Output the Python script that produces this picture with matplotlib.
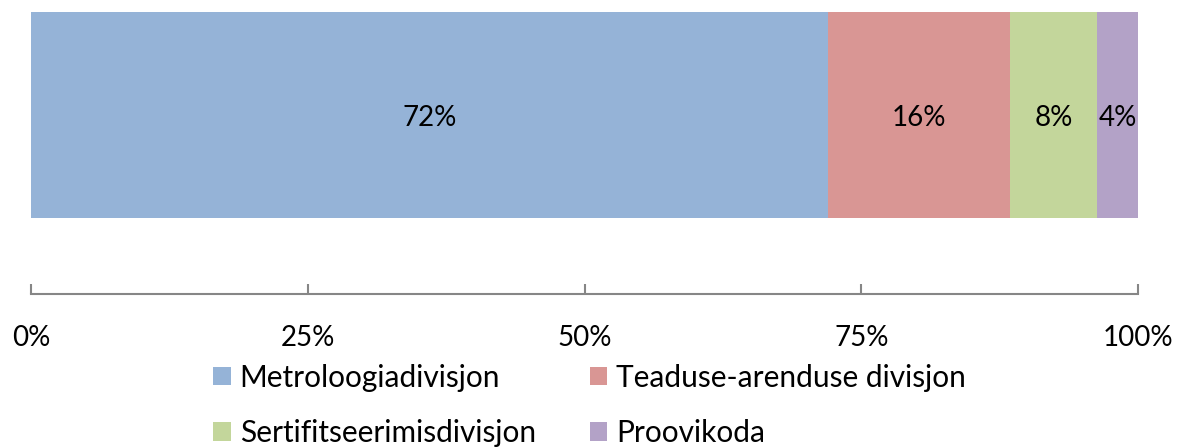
import matplotlib.pyplot as plt
from matplotlib.patches import Patch
from matplotlib.ticker import FuncFormatter

plt.rcParams['font.family'] = ['Lato', 'DejaVu Sans']

divisions = ['Metroloogiadivisjon', 'Teaduse-arenduse divisjon',
             'Sertifitseerimisdivisjon', 'Proovikoda']
shares = [72.0, 16.4, 7.9, 3.7]
labels = ['72%', '16%', '8%', '4%']
colors = ['#95B3D7', '#D99694', '#C3D69B', '#B3A2C7']

fig = plt.figure(figsize=(11.79, 4.47), dpi=100)
ax = fig.add_axes([31 / 1179, 153 / 447, 1107 / 1179, 282 / 447])

left = 0
for name, val, lab, col in zip(divisions, shares, labels, colors):
    ax.barh(0, val, left=left, height=1.0, color=col, label=name)
    ax.text(left + val / 2, 0, lab, ha='center', va='center_baseline',
            fontsize=20, color='black')
    left += val

ax.set_xlim(0, 100)
ax.set_ylim(0.5 - 282 / 206, 0.5)
ax.set_yticks([])
ax.set_xticks([0, 25, 50, 75, 100])
ax.xaxis.set_major_formatter(FuncFormatter(lambda v, p: f'{v:.0f}%'))
for s in ['top', 'left', 'right']:
    ax.spines[s].set_visible(False)
ax.spines['bottom'].set_color('#868686')
ax.spines['bottom'].set_linewidth(1.5)
ax.tick_params(axis='x', direction='in', length=7, width=1.5, color='#868686',
               labelsize=20, pad=22)

# legend fills column by column, so reorder to read row by row
order = [0, 2, 1, 3]
handles = [Patch(facecolor=colors[i], label=divisions[i]) for i in order]
fig.legend(handles=handles, ncol=2, loc='center', bbox_to_anchor=(0.5, 0.093),
           frameon=False, fontsize=21.5, handlelength=0.6, handleheight=0.6,
           handletextpad=0.3, columnspacing=1.8, labelspacing=0.93)

plt.savefig('out.png', dpi=100)
